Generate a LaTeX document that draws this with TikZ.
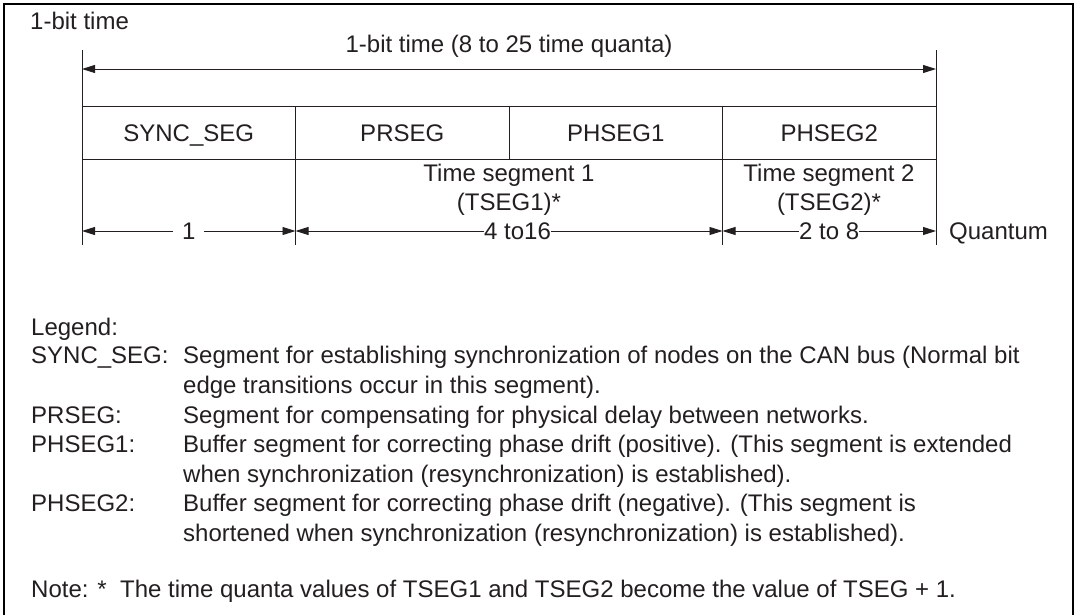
\documentclass[tikz,border=0pt]{standalone}
\usepackage{fontspec}
\setmainfont{Liberation Sans}
\usepackage{xcolor}
\definecolor{InkGray}{HTML}{231F20}
\usetikzlibrary{arrows.meta, positioning}

\begin{document}
\begin{tikzpicture}[x=1pt, y=-1pt, font=\fontsize{24}{29.5}\selectfont, text=InkGray,
    seg/.style={draw=InkGray, line width=1pt, minimum width=213.5pt, minimum height=52pt, inner sep=0pt, outer sep=0pt, text height=17.2pt, text depth=0pt},
    dim/.style={draw=InkGray, line width=0.9pt, {Triangle[length=13pt, width=8pt]}-{Triangle[length=13pt, width=8pt]}},
    tick/.style={draw=InkGray, line width=0.7pt},
    lbl/.style={fill=white, inner sep=0pt, text height=17.2pt, text depth=0pt},
    txt/.style={inner sep=0pt, anchor=base west}]
    \useasboundingbox (0,0) rectangle (1076,615);
    % Frame
    \draw[line width=2pt] (4,615) -- (4,4) -- (1073,4) -- (1073,615);

    % Components
    \node (title) [txt] at (30,30) {1-bit time};
    \node (sync) [seg] at (188.75,133) {SYNC\_SEG};
    \node (prseg) [seg, right=0pt of sync] {PRSEG};
    \node (phsegA) [seg, right=0pt of prseg] {PHSEG1};
    \node (phsegB) [seg, right=0pt of phsegA] {PHSEG2};

    % Extension lines
    \draw[tick] (82,50) -- (82,245);
    \draw[tick] (936,50) -- (936,245);
    \draw[tick] (prseg.south west) -- ++(0,86);
    \draw[tick] (phsegB.south west) -- ++(0,86);

    % The whole bit
    \coordinate (topL) at (82,69);
    \coordinate (topR) at (936,69);
    \draw[dim] (topL) -- (topR);
    \node (bitlen) [inner sep=0pt, anchor=base] at (509,53) {1-bit time (8 to 25 time quanta)};

    % Quanta per segment
    \coordinate (q0) at (82,231);
    \coordinate (q1) at (295.5,231);
    \coordinate (q2) at (722.5,231);
    \coordinate (q3) at (936,231);
    \draw[dim] (q0) -- node[lbl, inner xsep=9pt] {1} (q1);
    \draw[dim] (q1) -- node[lbl, pos=0.52] {4 to16} (q2);
    \draw[dim] (q2) -- node[lbl] {2 to 8} (q3);
    \node (quantum) [txt] at (949,239.6) {Quantum};
    \node (tsegA) [align=center, inner sep=0pt, anchor=base, font=\fontsize{24}{28.5}\selectfont] at (509,210.5) {Time segment 1\\(TSEG1)*};
    \node (tsegB) [align=center, inner sep=0pt, anchor=base, font=\fontsize{24}{28.5}\selectfont] at (829,210.5) {Time segment 2\\(TSEG2)*};

    % Legend
    \node (legend) [txt] at (31,335) {Legend:};
    \node (syncK) [txt] at (31,363.5) {SYNC\_SEG:};
    \node (syncV) [txt, align=left] at (183,393) {Segment for establishing synchronization of nodes on the CAN bus (Normal bit\\edge transitions occur in this segment).};
    \node (prsegK) [txt] at (31,423) {PRSEG:};
    \node (prsegV) [txt] at (183,423) {Segment for compensating for physical delay between networks.};
    \node (phsegAK) [txt] at (31,452.5) {PHSEG1:};
    \node (phsegAV) [txt, align=left] at (183,482) {Buffer segment for correcting phase drift (positive). (This segment is extended\\when synchronization (resynchronization) is established).};
    \node (phsegBK) [txt] at (31,511.5) {PHSEG2:};
    \node (phsegBV) [txt, align=left] at (183,541) {Buffer segment for correcting phase drift (negative). (This segment is\\shortened when synchronization (resynchronization) is established).};
    \node (note) [txt] at (31,597) {Note: *\ \ The time quanta values of TSEG1 and TSEG2 become the value of TSEG + 1.};
\end{tikzpicture}
\end{document}
